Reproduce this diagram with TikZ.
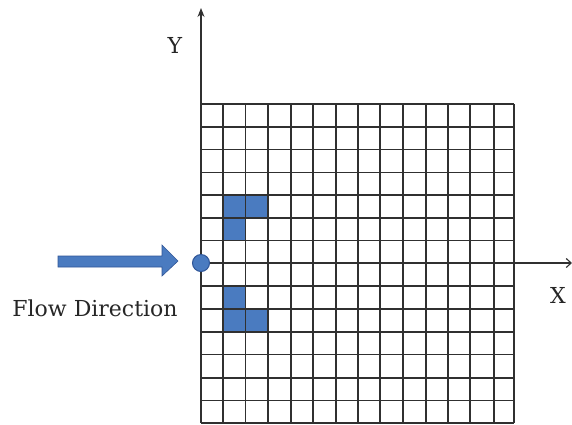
\documentclass[tikz,border=0pt]{standalone}
\usepackage{fontspec}
\setmainfont{DejaVu Serif}
\usepackage{tikz}
\usetikzlibrary{arrows.meta}
\definecolor{cellblue}{HTML}{4A7BC0}
\definecolor{edgeblue}{HTML}{2F5597}
\definecolor{gridcol}{HTML}{303030}
\tikzset{
  gridline/.style={draw=gridcol, line width=1.3pt},
  axisline/.style={draw=gridcol, line width=1.1pt},
  bluecell/.style={fill=cellblue, draw=none},
  lbl/.style={font=\fontsize{22}{25}\selectfont, text=black!85, inner sep=0pt}
}
\begin{document}
\begin{tikzpicture}[x=1pt,y=-1pt]
\useasboundingbox (0,0) rectangle (572,424);
% blue cells
\fill[bluecell] (223,195) rectangle (268,218);
\fill[bluecell] (223,218) rectangle (245.5,240.5);
\fill[bluecell] (223,286) rectangle (245.5,309);
\fill[bluecell] (223,309) rectangle (268,332);
% grid
\foreach \x in {201,223,245.5,268,291,313,336,358,380,403,426,448,470,494,514}
  \draw[gridline] (\x,104) -- (\x,423);
\foreach \y in {104,127,149.5,172.5,195,218,240.5,263,286,309,332,354.5,378,400.5,423}
  \draw[gridline] (201,\y) -- (514,\y);
% axes
\coordinate (origin) at (201,263);
\coordinate (ytip) at (201,8);
\coordinate (xtip) at (572,263);
\draw[axisline,-{Stealth[length=9pt,width=7pt]}] (origin) -- (ytip);
\draw[axisline,-{Straight Barb[length=5pt,width=9pt]}] (origin) -- (xtip);
\node[lbl] (ylab) at (175,45) {Y};
\node[lbl] (xlab) at (558,295) {X};
% origin marker
\node[circle, fill=cellblue, draw=edgeblue, line width=1pt, minimum size=17pt, inner sep=0pt] (marker) at (origin) {};
% flow arrow
\fill[cellblue, draw=edgeblue, line width=0.6pt]
  (58,256) -- (162,256) -- (162,245) -- (178,261) -- (162,276) -- (162,267) -- (58,267) -- cycle;
\node[lbl] (flowlab) at (95,308) {Flow Direction};
\end{tikzpicture}
\end{document}
